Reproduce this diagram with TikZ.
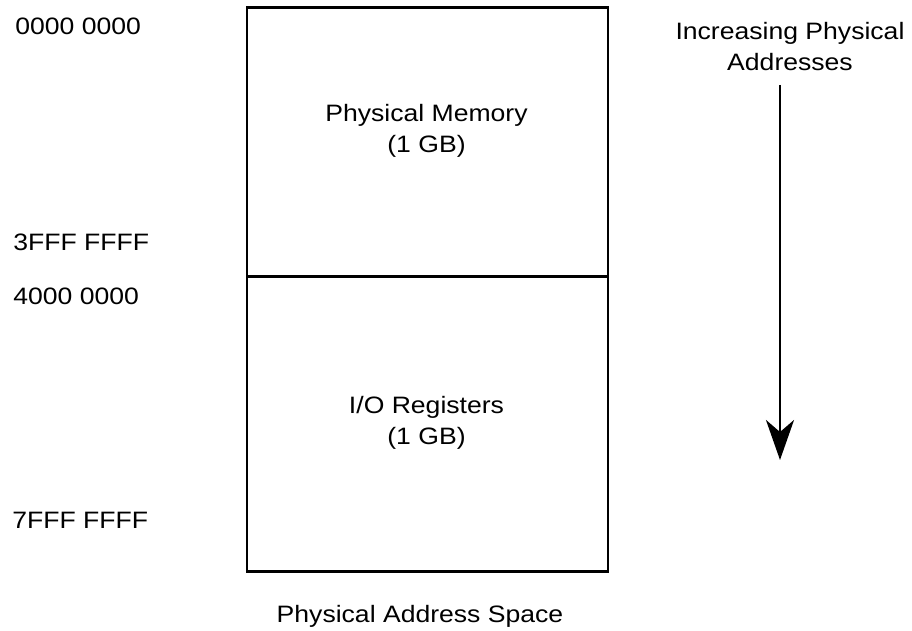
\documentclass[tikz,border=0pt]{standalone}
\usepackage{fontspec}
\setmainfont{Liberation Sans}[FakeStretch=1.12]
\usetikzlibrary{
    arrows.meta,
    positioning
}
\tikzset{
    every node/.style={font=\fontsize{13.5}{17.5}\selectfont},
    region/.style={draw, line width=1.4pt, inner sep=0pt, outer sep=0pt,
        minimum width=7.22cm, anchor=north west},
    addr/.style={anchor=west, inner sep=0pt},
    bigarrow/.style={line width=1.4pt,
        -{Stealth[length=0.8cm, width=0.56cm, inset=0.24cm]}}
}

\begin{document}
\begin{tikzpicture}
        \useasboundingbox (0,0) rectangle (18.24,-12.62);

        % address space
        \node[region, minimum height=5.38cm] (mem) at (4.94,-0.15) {};
        \node[region, minimum height=5.9cm] (io) at (mem.south west) {};

        \draw (8.53,-2.62) node[align=center](memtxt){Physical Memory\\(1 GB)};
        \draw (8.53,-8.46) node[align=center](iotxt){I/O Registers\\(1 GB)};

        % addresses
        \draw (0.3,-0.52)  node[addr](a0){0000 0000};
        \draw (0.26,-4.84) node[addr](a1){3FFF FFFF};
        \draw (0.26,-5.92) node[addr](a2){4000 0000};
        \draw (0.24,-10.4) node[addr](a3){7FFF FFFF};

        % direction
        \draw (15.8,-0.93) node[align=center](incr){Increasing Physical\\Addresses};
        \coordinate (as) at (15.6,-1.7);
        \coordinate (ae) at (15.6,-9.2);
        \draw[bigarrow] (as) -- (ae);

        \draw (8.4,-12.32) node(title){Physical Address Space};
    \end{tikzpicture}
\end{document}
